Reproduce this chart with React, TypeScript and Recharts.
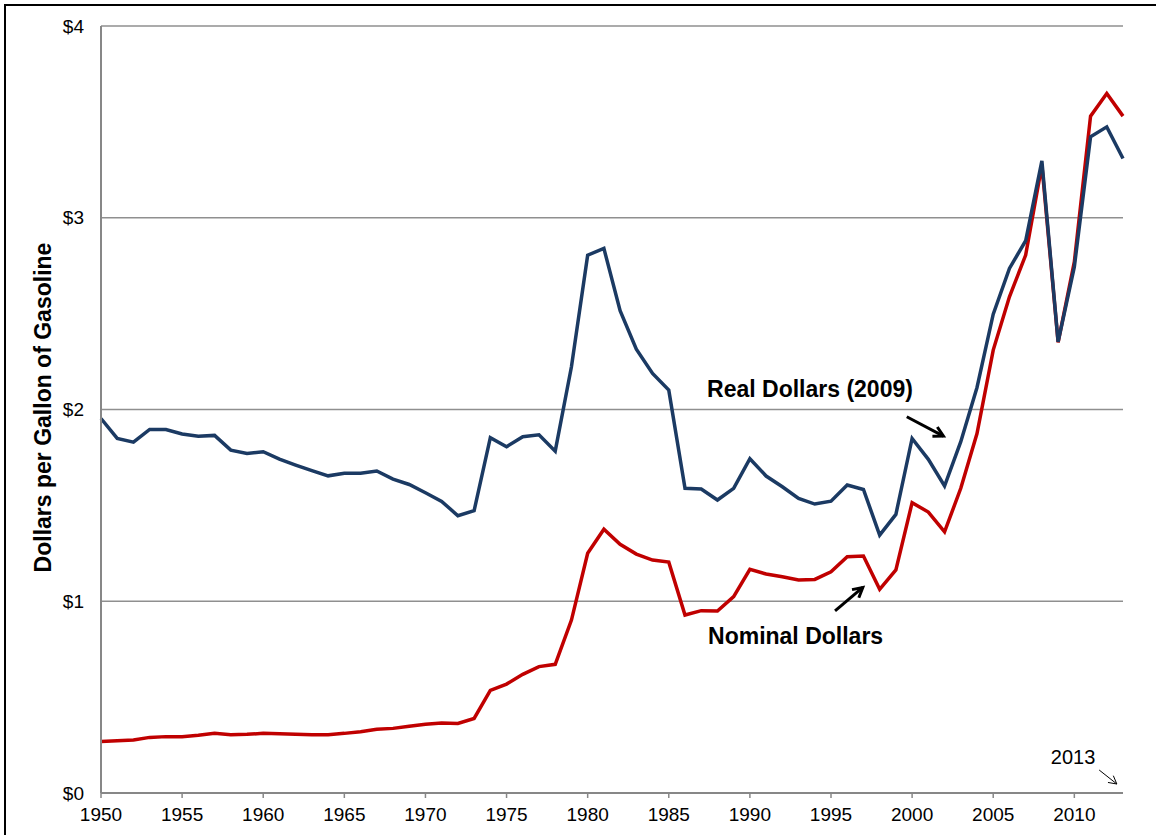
import React from 'react';
import {
  LineChart,
  Line,
  XAxis,
  YAxis,
  CartesianGrid,
  ReferenceLine,
  ReferenceDot,
} from 'recharts';

const years: number[] = [
  1950, 1951, 1952, 1953, 1954, 1955, 1956, 1957, 1958, 1959,
  1960, 1961, 1962, 1963, 1964, 1965, 1966, 1967, 1968, 1969,
  1970, 1971, 1972, 1973, 1974, 1975, 1976, 1977, 1978, 1979,
  1980, 1981, 1982, 1983, 1984, 1985, 1986, 1987, 1988, 1989,
  1990, 1991, 1992, 1993, 1994, 1995, 1996, 1997, 1998, 1999,
  2000, 2001, 2002, 2003, 2004, 2005, 2006, 2007, 2008, 2009,
  2010, 2011, 2012, 2013,
];

const realDollars: number[] = [
  1.953, 1.849, 1.83, 1.896, 1.896, 1.872, 1.861, 1.865, 1.788, 1.771,
  1.78, 1.741, 1.71, 1.681, 1.654, 1.667, 1.668, 1.679, 1.637, 1.609,
  1.566, 1.521, 1.446, 1.472, 1.853, 1.806, 1.858, 1.868, 1.783, 2.223,
  2.805, 2.84, 2.515, 2.315, 2.188, 2.101, 1.589, 1.585, 1.528, 1.589,
  1.743, 1.653, 1.597, 1.536, 1.507, 1.522, 1.606, 1.583, 1.345, 1.453,
  1.849, 1.74, 1.601, 1.832, 2.115, 2.497, 2.736, 2.88, 3.297, 2.353,
  2.744, 3.422, 3.474, 3.309,
];

const nominalDollars: number[] = [
  0.268, 0.273, 0.276, 0.29, 0.294, 0.294, 0.301, 0.311, 0.304, 0.306,
  0.311, 0.309, 0.306, 0.304, 0.304, 0.311, 0.32, 0.332, 0.337, 0.348,
  0.358, 0.365, 0.363, 0.389, 0.535, 0.568, 0.619, 0.659, 0.671, 0.902,
  1.25, 1.376, 1.297, 1.246, 1.215, 1.204, 0.928, 0.951, 0.949, 1.024,
  1.166, 1.142, 1.128, 1.111, 1.114, 1.154, 1.232, 1.236, 1.062, 1.163,
  1.514, 1.465, 1.362, 1.589, 1.875, 2.31, 2.588, 2.805, 3.274, 2.35,
  2.77, 3.53, 3.648, 3.53,
];

const xTicks: number[] = [1950, 1955, 1960, 1965, 1970, 1975, 1980, 1985, 1990, 1995, 2000, 2005, 2010];
const yTicks: number[] = [0, 1, 2, 3, 4];

const yAxisTitle = 'Dollars per Gallon of Gasoline';
const realLabel = 'Real Dollars (2009)';
const nominalLabel = 'Nominal Dollars';
const endLabel = '2013';

const data = years.map((year, i) => ({
  year,
  real: realDollars[i],
  nominal: nominalDollars[i],
}));

const FONT = '"Liberation Sans", Arial, Helvetica, sans-serif';

const makeArrow = (head: number, width: number) => (p: any) => {
  const { x1, y1, x2, y2 } = p;
  const ang = Math.atan2(y2 - y1, x2 - x1);
  const spread = 0.5;
  const ax = x2 - head * Math.cos(ang - spread);
  const ay = y2 - head * Math.sin(ang - spread);
  const bx = x2 - head * Math.cos(ang + spread);
  const by = y2 - head * Math.sin(ang + spread);
  return (
    <g>
      <line x1={x1} y1={y1} x2={x2} y2={y2} stroke="#000" strokeWidth={width} />
      <polyline
        points={`${ax},${ay} ${x2},${y2} ${bx},${by}`}
        fill="none"
        stroke="#000"
        strokeWidth={width}
        strokeLinejoin="miter"
      />
    </g>
  );
};

const makeText = (text: string, size: number, bold: boolean) => (props: any) => {
  const vb = props.viewBox || {};
  const x = (vb.x ?? 0) + (vb.width ?? 0) / 2;
  const y = (vb.y ?? 0) + (vb.height ?? 0) / 2;
  return (
    <text
      x={x}
      y={y}
      fontFamily={FONT}
      fontSize={size}
      fontWeight={bold ? 'bold' : 'normal'}
      fill="#000"
      textAnchor="start"
    >
      {text}
    </text>
  );
};

const YTitle = (props: any) => {
  const vb = props.viewBox || {};
  const cy = (vb.y ?? 0) + (vb.height ?? 0) / 2 - 2;
  const cx = 43;
  return (
    <text
      x={cx}
      y={cy}
      transform={`rotate(-90, ${cx}, ${cy})`}
      textAnchor="middle"
      dominantBaseline="central"
      fontFamily={FONT}
      fontSize={23}
      fontWeight="bold"
      fill="#000"
    >
      {yAxisTitle}
    </text>
  );
};

export default function App() {
  return (
    <div
      style={{
        position: 'absolute',
        left: 0,
        top: 0,
        width: 1156,
        height: 835,
        background: '#fff',
        overflow: 'hidden',
      }}
    >
      <div
        style={{
          position: 'absolute',
          left: 4,
          top: 4,
          width: 1200,
          height: 900,
          borderTop: '2.5px solid #000',
          borderLeft: '2.5px solid #000',
          boxSizing: 'border-box',
        }}
      />
      <div style={{ position: 'absolute', left: 0, top: 0 }}>
        <LineChart
          width={1156}
          height={835}
          data={data}
          margin={{ top: 26, right: 33, bottom: 0, left: 0 }}
        >
          <CartesianGrid vertical={false} stroke="#8f8f8f" strokeWidth={1.3} />
          <XAxis
            dataKey="year"
            type="number"
            domain={[1950, 2013]}
            ticks={xTicks}
            allowDecimals={false}
            height={42}
            axisLine={{ stroke: '#878787', strokeWidth: 2 }}
            tickLine={{ stroke: '#878787', strokeWidth: 1.5 }}
            tickSize={5}
            tickMargin={10}
            tick={{ fill: '#000', fontSize: 19, fontFamily: FONT }}
            interval={0}
          />
          <YAxis
            type="number"
            domain={[0, 4]}
            ticks={yTicks}
            width={101}
            axisLine={{ stroke: '#878787', strokeWidth: 2 }}
            tickLine={false}
            tickSize={6}
            tickMargin={11}
            tickFormatter={(v: number) => `$${v}`}
            tick={{ fill: '#000', fontSize: 19, fontFamily: FONT }}
            label={{ content: YTitle }}
          />
          <Line
            type="linear"
            dataKey="nominal"
            stroke="#C00000"
            strokeWidth={3.5}
            dot={false}
            activeDot={false}
            isAnimationActive={false}
          />
          <Line
            type="linear"
            dataKey="real"
            stroke="#1B3A63"
            strokeWidth={3.5}
            dot={false}
            activeDot={false}
            isAnimationActive={false}
          />
          <ReferenceLine
            segment={[{ x: 1999.67, y: 1.962 }, { x: 2001.93, y: 1.861 }]}
            shape={makeArrow(11, 3)}
            ifOverflow="visible"
          />
          <ReferenceLine
            segment={[{ x: 1995.25, y: 0.95 }, { x: 1996.96, y: 1.072 }]}
            shape={makeArrow(11, 3)}
            ifOverflow="visible"
          />
          <ReferenceLine
            segment={[{ x: 2011.53, y: 0.12 }, { x: 2012.62, y: 0.047 }]}
            shape={makeArrow(9, 1)}
            ifOverflow="visible"
          />
          <ReferenceDot
            x={1987.36}
            y={2.066}
            r={0}
            fill="none"
            stroke="none"
            ifOverflow="visible"
            label={{ content: makeText(realLabel, 23, true) }}
          />
          <ReferenceDot
            x={1987.42}
            y={0.775}
            r={0}
            fill="none"
            stroke="none"
            ifOverflow="visible"
            label={{ content: makeText(nominalLabel, 23, true) }}
          />
          <ReferenceDot
            x={2008.55}
            y={0.151}
            r={0}
            fill="none"
            stroke="none"
            ifOverflow="visible"
            label={{ content: makeText(endLabel, 20, false) }}
          />
        </LineChart>
      </div>
    </div>
  );
}
